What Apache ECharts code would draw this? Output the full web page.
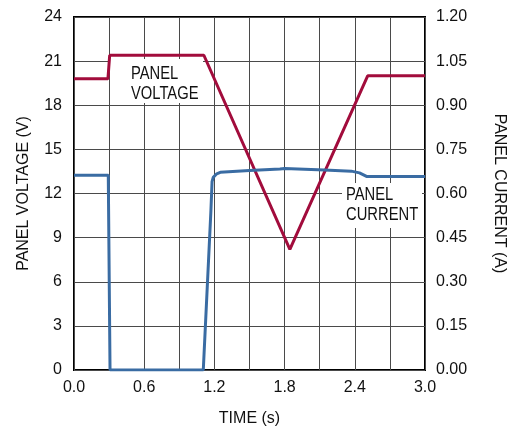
<!DOCTYPE html>
<html>
<head>
<meta charset="utf-8">
<script src="https://cdn.jsdelivr.net/npm/echarts@6/dist/echarts.min.js"></script>
<style>
html,body{margin:0;padding:0;background:#fff;}
#c{width:518px;height:432px;}
</style>
</head>
<body>
<div id="c"></div>
<script>
// Panel voltage (V) vs time (s)
var voltage = [
  [0.00, 19.8], [0.29, 19.8], [0.305, 21.4], [1.11, 21.4],
  [1.845, 8.2], [2.51, 20.0], [3.00, 20.0]
];
// Panel current (A) vs time (s)
var current = [
  [0.00, 0.662], [0.293, 0.662], [0.308, 0.0], [1.105, 0.0],
  [1.17, 0.54], [1.18, 0.64], [1.19, 0.655], [1.22, 0.667],
  [1.25, 0.672], [1.5, 0.678], [1.76, 0.683], [1.8, 0.685],
  [2.14, 0.680], [2.37, 0.676], [2.44, 0.670], [2.47, 0.664],
  [2.50, 0.658], [3.00, 0.658]
];
var xRange = [0, 3.0];
var voltRange = [0, 24];
var currRange = [0, 1.2];

var FONT = "'Liberation Sans',Arial,sans-serif";
var chart = echarts.init(document.getElementById('c'));
chart.setOption({
  animation: false,
  backgroundColor: '#fff',
  grid: {left: 74, right: 93, top: 17, bottom: 62, show: true,
         borderColor: '#000', borderWidth: 2, backgroundColor: 'transparent'},
  xAxis: {
    type: 'value', min: xRange[0], max: xRange[1], interval: 0.3,
    name: 'TIME (s)', nameLocation: 'middle', nameGap: 41,
    nameTextStyle: {fontFamily: FONT, fontSize: 16, color: '#111'},
    axisLine: {show: false}, axisTick: {show: false},
    axisLabel: {margin: 10, fontFamily: FONT, fontSize: 16, color: '#111',
      formatter: function (v) { return (Math.round(v * 10) % 6 === 0) ? v.toFixed(1) : ''; }},
    splitLine: {show: true, lineStyle: {color: '#4a4a4a', width: 1}}
  },
  yAxis: [{
    type: 'value', min: voltRange[0], max: voltRange[1], interval: 3,
    name: 'PANEL VOLTAGE (V)', nameLocation: 'middle', nameGap: 42,
    nameTextStyle: {fontFamily: FONT, fontSize: 16, color: '#111'},
    axisLine: {show: false}, axisTick: {show: false},
    axisLabel: {margin: 12, fontFamily: FONT, fontSize: 16, color: '#111'},
    splitLine: {show: true, lineStyle: {color: '#4a4a4a', width: 1}}
  }, {
    type: 'value', min: currRange[0], max: currRange[1], interval: 0.15,
    position: 'right',
    name: 'PANEL CURRENT (A)', nameLocation: 'middle', nameGap: 66, nameRotate: -90,
    nameTextStyle: {fontFamily: FONT, fontSize: 16, color: '#111'},
    axisLine: {show: false}, axisTick: {show: false},
    axisLabel: {margin: 11, fontFamily: FONT, fontSize: 16, color: '#111',
      formatter: function (v) { return v.toFixed(2); }},
    splitLine: {show: false}
  }],
  graphic: [
    {type: 'rect', z: 1, shape: {x: 110, y: 59, width: 93, height: 44}, style: {fill: '#fff'}},
    {type: 'text', z: 1, x: 131, y: 64, scaleX: 0.82,
     style: {text: 'PANEL\nVOLTAGE', font: '18px ' + FONT, fill: '#111', lineHeight: 20,
             textVerticalAlign: 'top', verticalAlign: 'top'}},
    {type: 'rect', z: 1, shape: {x: 342, y: 183, width: 80, height: 45}, style: {fill: '#fff'}},
    {type: 'text', z: 1, x: 346, y: 185, scaleX: 0.82,
     style: {text: 'PANEL\nCURRENT', font: '18px ' + FONT, fill: '#111', lineHeight: 20,
             textVerticalAlign: 'top', verticalAlign: 'top'}}
  ],
  series: [{
    type: 'line', name: 'Voltage', yAxisIndex: 0, data: voltage, showSymbol: false, z: 3,
    lineStyle: {color: '#a20c3c', width: 3}
  }, {
    type: 'line', name: 'Current', yAxisIndex: 1, data: current, showSymbol: false, z: 3,
    lineStyle: {color: '#3a6ca3', width: 3}
  }]
});
</script>
</body>
</html>
